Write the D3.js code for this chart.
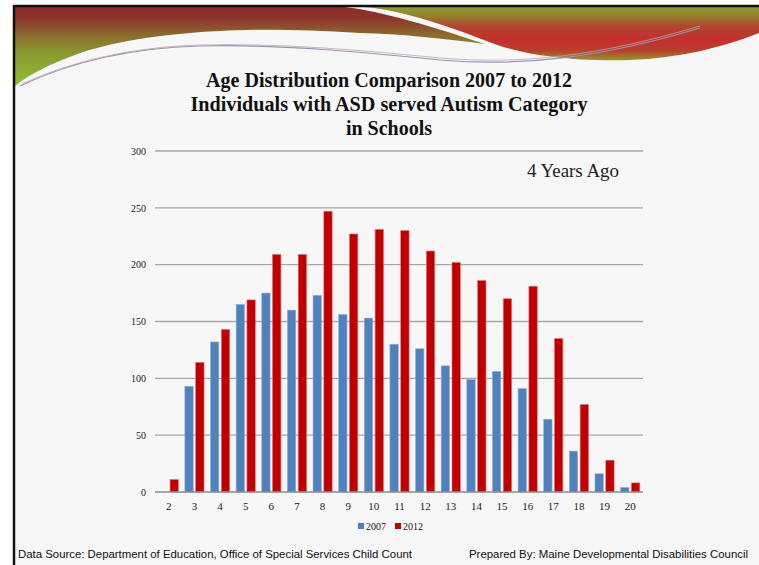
<!DOCTYPE html>
<html>
<head>
<meta charset="utf-8">
<script src="https://cdn.jsdelivr.net/npm/d3@7"></script>
<style>
  html, body { margin: 0; padding: 0; background: #ffffff; }
  svg { display: block; }
</style>
</head>
<body>
<svg id="chart" width="759" height="565"></svg>
<script>
// Ages served and student counts for each year
const ages = ["2","3","4","5","6","7","8","9","10","11","12","13","14","15","16","17","18","19","20"];
const counts2007 = [0, 93, 132, 165, 175, 160, 173, 156, 153, 130, 126, 111, 99, 106, 91, 64, 36, 16, 4];
const counts2012 = [11, 114, 143, 169, 209, 209, 247, 227, 231, 230, 212, 202, 186, 170, 181, 135, 77, 28, 8];
const seriesNames = ["2007", "2012"];
const seriesColors = ["#4f81bd", "#c00000"];
const yTicks = [0, 50, 100, 150, 200, 250, 300];

const titleLines = [
  "Age Distribution Comparison 2007 to 2012",
  "Individuals with ASD served Autism Category",
  "in Schools"
];

const svg = d3.select("#chart");
const W = 759, H = 565;

// Slide background
svg.append("rect").attr("width", W).attr("height", H).attr("fill", "#ffffff");
svg.append("rect").attr("x", 15).attr("y", 6).attr("width", W - 15).attr("height", H - 6).attr("fill", "#f7f7f7");

const defs = svg.append("defs");
// Band colour: dark red at the top fading into green towards the lower left
const gLeft = defs.append("linearGradient").attr("id", "gLeft")
  .attr("gradientUnits", "userSpaceOnUse").attr("x1", 0).attr("y1", 7).attr("x2", 0).attr("y2", 86);
[[0, "#8b2a2a"], [0.15, "#8e352b"], [0.35, "#8c6a2e"], [0.6, "#8a9c31"], [1, "#8dbf36"]]
  .forEach(([o, c]) => gLeft.append("stop").attr("offset", o).attr("stop-color", c));
// Right swoosh: green rim, red core
const gRight = defs.append("linearGradient").attr("id", "gRight")
  .attr("gradientUnits", "userSpaceOnUse").attr("x1", 0).attr("y1", 7).attr("x2", 0).attr("y2", 62);
[[0, "#8c9c2e"], [0.12, "#8f8a2e"], [0.35, "#b0452c"], [0.6, "#c62e2d"], [0.8, "#b8402c"], [1, "#8fa832"]]
  .forEach(([o, c]) => gRight.append("stop").attr("offset", o).attr("stop-color", c));

// Header band (left part), tapering under the white swoosh
svg.append("path")
  .attr("d", "M15,7 L345,7 C385,12 430,26 485,44 C440,38 400,34 360,33 C300,29 250,29 220,31 C160,34 110,42 75,55 C50,64 30,74 15,86 Z")
  .attr("fill", "url(#gLeft)");
// Header band (right part)
svg.append("path")
  .attr("d", "M365,7 L759,7 L759,33 C720,48 680,58 630,60 C570,62 520,54 492,43 C445,25 405,11 365,7 Z")
  .attr("fill", "url(#gRight)");
// Thin ribbon lines
svg.append("path")
  .attr("d", "M20,86 C70,62 130,48 200,46 C280,44 360,52 440,60 C520,67 600,58 700,28")
  .attr("fill", "none").attr("stroke", "#8f96b8").attr("stroke-width", 1.2);
svg.append("path")
  .attr("d", "M22,84 C72,61 132,47 200,45 C280,43 360,50 440,58 C520,65 600,56 700,26")
  .attr("fill", "none").attr("stroke", "#c9a0a0").attr("stroke-width", 0.8);

// Frame lines (top and left)
svg.append("line").attr("x1", 14).attr("x2", W).attr("y1", 6).attr("y2", 6).attr("stroke", "#111").attr("stroke-width", 2.5);
svg.append("line").attr("x1", 14).attr("x2", 14).attr("y1", 5).attr("y2", H).attr("stroke", "#111").attr("stroke-width", 2.5);

// Title
const titleY = [87, 111, 135];
const titleLen = [366, 397, 0];
titleLines.forEach((t, i) => {
  const txt = svg.append("text")
    .attr("x", 389).attr("y", titleY[i])
    .attr("text-anchor", "middle")
    .attr("font-family", "Liberation Serif, serif")
    .attr("font-weight", "bold")
    .attr("font-size", 20)
    .attr("fill", "#111")
    .text(t);
  if (titleLen[i]) txt.attr("textLength", titleLen[i]).attr("lengthAdjust", "spacingAndGlyphs");
});

// Scales
const x0 = d3.scaleBand().domain(ages).range([156, 643]).padding(0);
const x1 = d3.scaleBand().domain(seriesNames).range([0, x0.bandwidth()]).paddingInner(0.23).paddingOuter(0.3);
const y = d3.scaleLinear().domain([0, 300]).range([492, 151]);

// Gridlines
svg.append("g").selectAll("line").data(yTicks.filter(d => d > 0)).join("line")
  .attr("x1", 155).attr("x2", 643)
  .attr("y1", d => y(d)).attr("y2", d => y(d))
  .attr("stroke", "#a6a6a6").attr("stroke-width", 1.3);

// Y axis labels
const yAxis = d3.axisLeft(y).tickValues(yTicks).tickSize(0).tickPadding(0).tickFormat(d3.format("d"));
const gy = svg.append("g").attr("transform", "translate(146,0)").call(yAxis);
gy.select(".domain").remove();
gy.selectAll("text").attr("font-family", "Liberation Serif, serif").attr("font-size", 10).attr("fill", "#222");

// Bars
const rows = ages.map((a, i) => ({ age: a, values: [counts2007[i], counts2012[i]] }));
const groups = svg.append("g").selectAll("g").data(rows).join("g")
  .attr("transform", d => `translate(${x0(d.age)},0)`);
groups.selectAll("rect")
  .data(d => d.values.map((v, j) => ({ key: seriesNames[j], value: v, color: seriesColors[j] })))
  .join("rect")
  .attr("x", d => x1(d.key))
  .attr("width", x1.bandwidth())
  .attr("y", d => y(d.value))
  .attr("height", d => y(0) - y(d.value))
  .attr("fill", d => d.color)
  .attr("stroke", d => d.key === "2007" ? "#8fb0d8" : "#e07070")
  .attr("stroke-width", d => d.value > 0 ? 0.6 : 0);

// X axis baseline and labels
svg.append("line").attr("x1", 155).attr("x2", 643).attr("y1", y(0)).attr("y2", y(0))
  .attr("stroke", "#8c8c8c").attr("stroke-width", 1.3);
const xAxis = d3.axisBottom(x0).tickSize(0).tickPadding(0);
const gx = svg.append("g").attr("transform", `translate(0,${y(0) + 11})`).call(xAxis);
gx.select(".domain").remove();
gx.selectAll("text").attr("font-family", "Liberation Serif, serif").attr("font-size", 11).attr("fill", "#222").attr("dy", "0.6em");

// Annotation
svg.append("text").attr("x", 573).attr("y", 177).attr("text-anchor", "middle")
  .attr("font-family", "Liberation Serif, serif").attr("font-size", 19).attr("fill", "#222")
  .attr("textLength", 92).attr("lengthAdjust", "spacingAndGlyphs")
  .text("4 Years Ago");

// Legend
const legendX = [358, 395];
seriesNames.forEach((s, i) => {
  svg.append("rect").attr("x", legendX[i]).attr("y", 523).attr("width", 6).attr("height", 6).attr("fill", seriesColors[i]);
  svg.append("text").attr("x", legendX[i] + 8).attr("y", 530)
    .attr("font-family", "Liberation Serif, serif").attr("font-size", 10).attr("fill", "#222").text(s);
});

// Footer
svg.append("text").attr("x", 18).attr("y", 558)
  .attr("font-family", "Liberation Sans, Arial, sans-serif").attr("font-size", 11.5).attr("fill", "#111")
  .attr("textLength", 394).attr("lengthAdjust", "spacingAndGlyphs")
  .text("Data Source:  Department of Education, Office of Special Services Child Count");
svg.append("text").attr("x", 469).attr("y", 558)
  .attr("font-family", "Liberation Sans, Arial, sans-serif").attr("font-size", 11.5).attr("fill", "#111")
  .attr("textLength", 279).attr("lengthAdjust", "spacingAndGlyphs")
  .text("Prepared By:  Maine Developmental Disabilities Council");
</script>
</body>
</html>
